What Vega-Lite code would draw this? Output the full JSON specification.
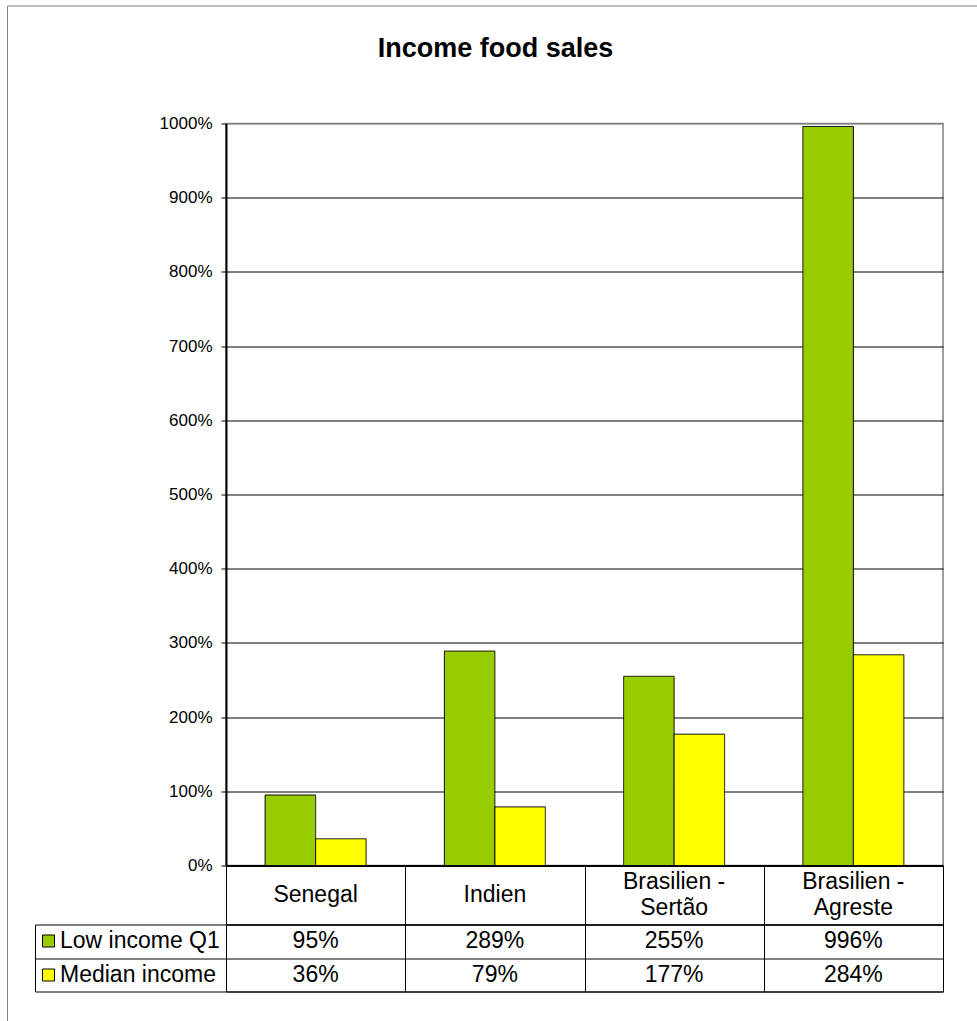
{
  "$schema": "https://vega.github.io/schema/vega-lite/v6.json",
  "background": "white",
  "padding": {"left": 5, "top": 3.5, "right": 0, "bottom": 0},
  "datasets": {
    "sales": [
      {"region": "Senegal", "series": "Low income Q1", "value": 0.95},
      {"region": "Senegal", "series": "Median income", "value": 0.36},
      {"region": "Indien", "series": "Low income Q1", "value": 2.89},
      {"region": "Indien", "series": "Median income", "value": 0.79},
      {"region": "Brasilien -\nSertão", "series": "Low income Q1", "value": 2.55},
      {"region": "Brasilien -\nSertão", "series": "Median income", "value": 1.77},
      {"region": "Brasilien -\nAgreste", "series": "Low income Q1", "value": 9.96},
      {"region": "Brasilien -\nAgreste", "series": "Median income", "value": 2.84}
    ]
  },
  "spacing": 0,
  "bounds": "flush",
  "resolve": {"scale": {"x": "shared", "color": "independent", "strokeDash": "independent"}},
  "vconcat": [
    {
      "width": 717,
      "height": 742,
      "title": {"text": "Income food sales", "fontSize": 27, "fontWeight": "bold", "font": "Liberation Sans", "color": "black", "anchor": "middle", "frame": "group", "dx": -89, "offset": -58},
      "data": {"name": "sales"},
      "mark": {"type": "bar", "stroke": "black", "strokeWidth": 1},
      "encoding": {
        "x": {"field": "region", "type": "nominal", "sort": null, "scale": {"paddingInner": 0, "paddingOuter": 0},
              "axis": {"title": null, "labels": false, "ticks": false, "domain": true, "domainColor": "black", "domainWidth": 2, "grid": false}},
        "xOffset": {"field": "series", "type": "nominal", "sort": null, "scale": {"paddingInner": 0, "paddingOuter": 0.775}},
        "y": {"field": "value", "type": "quantitative", "scale": {"domain": [0, 10], "nice": false},
              "axis": {"title": null, "format": ".0%", "values": [0, 1, 2, 3, 4, 5, 6, 7, 8, 9, 10], "grid": true,
                       "gridColor": {"condition": {"test": "datum.value >= 10", "value": "#808080"}, "value": "black"},
                       "gridWidth": 1, "domain": true, "domainColor": "black", "domainWidth": 2, "ticks": true, "tickSize": 5,
                       "tickColor": "black", "labelFontSize": 17, "labelPadding": 9, "labelColor": "black", "labelFont": "Liberation Sans"}},
        "color": {"field": "series", "type": "nominal", "sort": null, "scale": {"range": ["#99CC00", "#FFFF00"]},
                  "legend": {"orient": "none", "legendX": -189, "legendY": 806, "title": null, "direction": "vertical",
                             "symbolType": "square", "symbolSize": 144, "symbolStrokeColor": "black", "symbolStrokeWidth": 1,
                             "symbolOpacity": 1, "labelFont": "Liberation Sans", "labelFontSize": 23, "labelColor": "black",
                             "labelOffset": 0, "rowPadding": 10, "padding": 0, "labelLimit": 300}},
        "strokeDash": {"datum": "frame", "type": "nominal",
                       "legend": {"orient": "none", "legendX": -219, "legendY": -118, "title": null, "padding": 560,
                                  "strokeColor": "#808080", "symbolOpacity": 0, "symbolSize": 0, "labelExpr": "''",
                                  "labelOpacity": 0, "labelFontSize": 1}}
      },
      "view": {"stroke": "#808080", "strokeWidth": 1.5}
    },
    {
      "width": 717,
      "height": 59,
      "data": {"name": "sales"},
      "transform": [{"filter": "datum.series === 'Low income Q1'"}],
      "encoding": {
        "x": {"field": "region", "type": "nominal", "sort": null,
              "axis": {"title": null, "labels": false, "ticks": false, "domain": false, "grid": true, "gridColor": "black", "gridWidth": 1, "tickBand": "extent"}},
        "text": {"field": "region"}
      },
      "layer": [
        {
          "transform": [{"filter": "indexof(datum.region, '\\n') < 0"}],
          "mark": {"type": "text", "font": "Liberation Sans", "fontSize": 23, "color": "black", "baseline": "middle"}
        },
        {
          "transform": [{"filter": "indexof(datum.region, '\\n') >= 0"}],
          "mark": {"type": "text", "font": "Liberation Sans", "fontSize": 23, "color": "black", "lineBreak": "\n", "lineHeight": 26, "baseline": "middle", "dy": -13}
        }
      ],
      "view": {"stroke": "black", "strokeWidth": 1}
    },
    {
      "width": 717,
      "height": 67,
      "data": {"name": "sales"},
      "mark": {"type": "text", "font": "Liberation Sans", "fontSize": 23, "color": "black", "baseline": "middle"},
      "encoding": {
        "x": {"field": "region", "type": "nominal", "sort": null,
              "axis": {"title": null, "labels": false, "ticks": false, "domain": false, "grid": true, "gridColor": "black", "gridWidth": 1, "tickBand": "extent"}},
        "y": {"field": "series", "type": "nominal", "sort": null, "scale": {"paddingInner": 0, "paddingOuter": 0},
              "axis": {"title": null, "labels": false, "domain": true, "domainColor": "black", "domainWidth": 1, "offset": 191,
                       "ticks": true, "tickSize": -191, "tickColor": "black", "tickWidth": 1, "tickBand": "extent",
                       "grid": true, "gridColor": "black", "gridWidth": 1}},
        "text": {"field": "value", "type": "quantitative", "format": ".0%"}
      },
      "view": {"stroke": "black", "strokeWidth": 1}
    }
  ]
}
